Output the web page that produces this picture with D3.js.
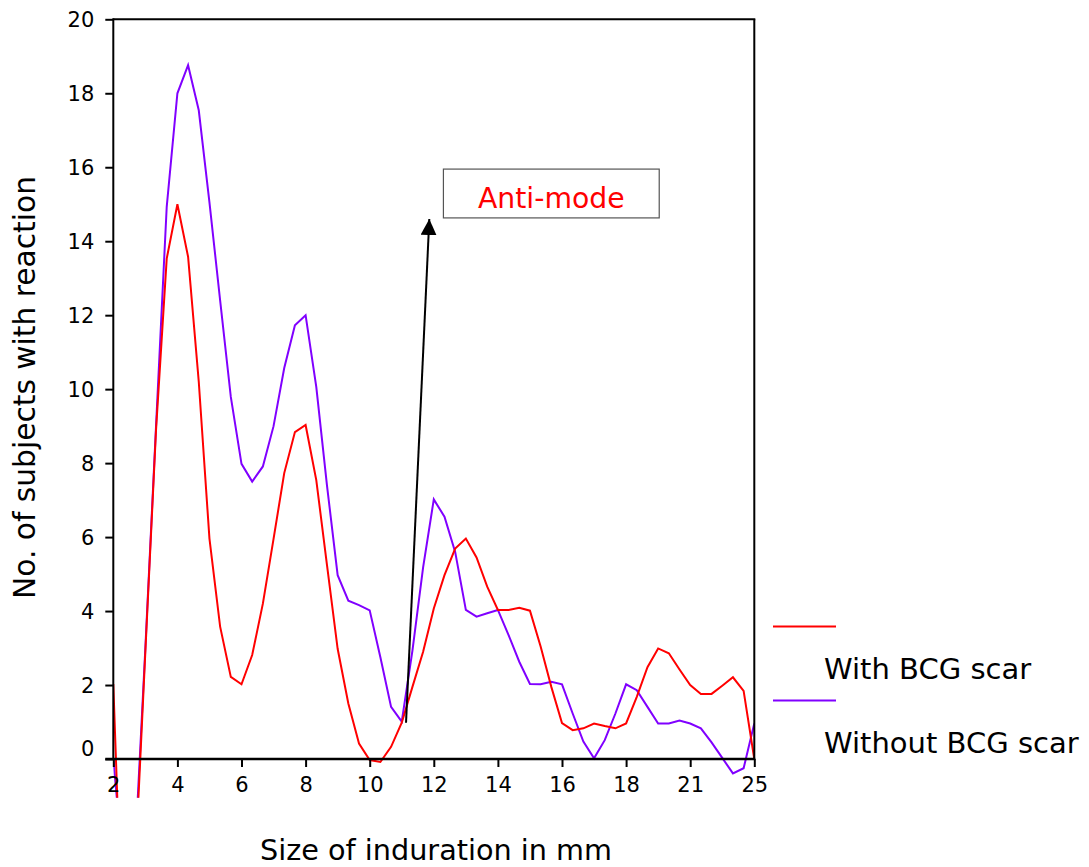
<!DOCTYPE html>
<html>
<head>
<meta charset="utf-8">
<script src="https://cdn.jsdelivr.net/npm/d3@7"></script>
<style>
  html, body { margin: 0; padding: 0; background: #fff; }
  svg { display: block; }
  text { font-family: "DejaVu Sans", Verdana, sans-serif; }
</style>
</head>
<body>
<svg id="chart" width="1089" height="867"></svg>
<script>
// Induration sizes, six smoothed steps between labelled sizes
const tickLabels = ["2", "4", "6", "8", "10", "12", "14", "16", "18", "21", "25"];
const stepsPerLabel = 6;

// Number of subjects with reaction, with BCG scar
const withScar = [
  2.03, -6.2, -3.2, 2.9, 8.9, 13.53, 15.0, 13.58, 10.2, 5.96,
  3.58, 2.22, 2.02, 2.81, 4.2, 5.95, 7.73, 8.84, 9.03, 7.54,
  5.25, 2.98, 1.5, 0.42, -0.03, -0.08, 0.33, 0.98, 1.95, 2.9,
  4.07, 4.97, 5.69, 5.96, 5.45, 4.66, 4.03, 4.03, 4.09, 4.01,
  3.04, 1.95, 0.97, 0.78, 0.83, 0.96, 0.89, 0.83, 0.96, 1.68,
  2.48, 2.99, 2.86, 2.42, 2.0, 1.76, 1.76, 1.98, 2.21, 1.84,
  0.0
];

// Number of subjects with reaction, without BCG scar
const withoutScar = [
  0.0, -3.2, -2.7, 3.0, 9.0, 14.93, 18.0, 18.76, 17.54, 15.05,
  12.4, 9.79, 7.98, 7.5, 7.91, 9.0, 10.57, 11.73, 12.0, 10.06,
  7.4, 4.97, 4.28, 4.16, 4.02, 2.75, 1.41, 1.01, 2.93, 5.18,
  7.02, 6.55, 5.6, 4.03, 3.85, 3.94, 4.03, 3.35, 2.63, 2.03,
  2.02, 2.09, 2.02, 1.23, 0.47, 0.02, 0.51, 1.23, 2.02, 1.86,
  1.41, 0.96, 0.96, 1.04, 0.96, 0.83, 0.45, 0.03, -0.39, -0.25,
  0.96
];

const yTicks = [0, 2, 4, 6, 8, 10, 12, 14, 16, 18, 20];

const seriesNames = ["With BCG scar", "Without BCG scar"];
const seriesColors = ["#ff0000", "#8000ff"];

// Anti-mode annotation: arrow from the dip to the label box (index units, counts)
const arrowFrom = [27.4, 0.98];
const arrowTo = [29.58, 14.6];
const noteBox = { x0: 30.9, x1: 51.1, y0: 15.95, y1: 14.63, text: "Anti-mode" };

const svg = d3.select("#chart");
const plotLeft = 113.3, plotRight = 754.3, plotTop = 19.3, plotBottom = 759;

const nPts = (tickLabels.length - 1) * stepsPerLabel;
const x = d3.scaleLinear().domain([0, nPts]).range([plotLeft, plotRight]);
const y = d3.scaleLinear().domain([0, 20]).range([plotBottom, plotTop]);

const defs = svg.append("defs");

// clip lines a little below the baseline
defs.append("clipPath").attr("id", "plotClip")
  .append("rect")
  .attr("x", plotLeft).attr("y", plotTop)
  .attr("width", plotRight - plotLeft).attr("height", y(-1.05) - plotTop);

const line = d3.line().x((d, i) => x(i)).y(d => y(d));

const plot = svg.append("g").attr("clip-path", "url(#plotClip)");
[[withoutScar, seriesColors[1]], [withScar, seriesColors[0]]].forEach(([s, c]) => {
  plot.append("path")
    .datum(s)
    .attr("fill", "none")
    .attr("stroke", c)
    .attr("stroke-width", 2)
    .attr("d", line);
});

// frame
const frame = svg.append("g").attr("stroke", "#000").attr("stroke-width", 2).attr("fill", "none");
frame.append("line").attr("x1", plotLeft).attr("x2", plotRight + 1).attr("y1", plotTop).attr("y2", plotTop);
frame.append("line").attr("x1", plotRight).attr("x2", plotRight).attr("y1", plotTop).attr("y2", plotBottom);

// y axis
const yAxis = svg.append("g").attr("transform", `translate(${plotLeft},0)`)
  .call(d3.axisLeft(y).tickValues(yTicks).tickSize(8).tickPadding(11).tickFormat(d3.format("d")));
yAxis.select(".domain").remove();
yAxis.selectAll(".tick line").attr("stroke", "#000").attr("stroke-width", 2);
yAxis.selectAll(".tick text")
  .attr("font-size", 21).attr("fill", "#000")
  .style("font-family", '"DejaVu Sans", Verdana, sans-serif')
  .attr("dy", d => d === 0 ? "-0.15em" : "0.34em");
svg.append("line").attr("stroke", "#000").attr("stroke-width", 2)
  .attr("x1", plotLeft).attr("x2", plotLeft).attr("y1", plotTop - 1).attr("y2", plotBottom);

// x axis
const xTickPos = tickLabels.map((_, i) => i * stepsPerLabel);
const xAxis = svg.append("g").attr("transform", `translate(0,${plotBottom})`)
  .call(d3.axisBottom(x).tickValues(xTickPos).tickSize(8).tickPadding(10)
    .tickFormat((d, i) => tickLabels[i]));
xAxis.select(".domain").remove();
xAxis.selectAll(".tick line").attr("stroke", "#000").attr("stroke-width", 2);
xAxis.selectAll(".tick text")
  .attr("font-size", 21).attr("fill", "#000")
  .style("font-family", '"DejaVu Sans", Verdana, sans-serif');
svg.append("line").attr("stroke", "#000").attr("stroke-width", 2.5)
  .attr("x1", plotLeft - 8).attr("x2", plotRight + 1).attr("y1", plotBottom).attr("y2", plotBottom);

// axis titles
svg.append("text")
  .attr("x", 436).attr("y", 859.5)
  .attr("text-anchor", "middle").attr("font-size", 28.7)
  .text("Size of induration in mm");
svg.append("text")
  .attr("transform", `translate(35,${(178 + 597) / 2}) rotate(-90)`)
  .attr("text-anchor", "middle").attr("font-size", 29.7)
  .text("No. of subjects with reaction");

// anti-mode note
defs.append("marker")
  .attr("id", "arrowHead").attr("viewBox", "0 0 10 10")
  .attr("refX", 10).attr("refY", 5)
  .attr("markerWidth", 16).attr("markerHeight", 16)
  .attr("markerUnits", "userSpaceOnUse")
  .attr("orient", "auto")
  .append("path").attr("d", "M0,0 L10,5 L0,10 Z").attr("fill", "#000");

svg.append("line")
  .attr("x1", x(arrowFrom[0])).attr("y1", y(arrowFrom[1]))
  .attr("x2", x(arrowTo[0])).attr("y2", y(arrowTo[1]))
  .attr("stroke", "#000").attr("stroke-width", 2)
  .attr("marker-end", "url(#arrowHead)");

svg.append("rect")
  .attr("x", x(noteBox.x0)).attr("y", y(noteBox.y0))
  .attr("width", x(noteBox.x1) - x(noteBox.x0))
  .attr("height", y(noteBox.y1) - y(noteBox.y0))
  .attr("fill", "#fff").attr("stroke", "#555").attr("stroke-width", 1.2);
svg.append("text")
  .attr("x", (x(noteBox.x0) + x(noteBox.x1)) / 2)
  .attr("y", (y(noteBox.y0) + y(noteBox.y1)) / 2 + 15)
  .attr("text-anchor", "middle").attr("font-size", 28.3).attr("fill", "#ff0000")
  .text(noteBox.text);

// legend
const legend = svg.append("g");
seriesNames.forEach((name, i) => {
  const ly = 626.5 + i * 74;
  legend.append("line")
    .attr("x1", 773).attr("x2", 836).attr("y1", ly).attr("y2", ly)
    .attr("stroke", seriesColors[i]).attr("stroke-width", 2);
  legend.append("text")
    .attr("x", 824).attr("y", ly + 52.5)
    .attr("font-size", 29).attr("fill", "#000")
    .text(name);
});
</script>
</body>
</html>
